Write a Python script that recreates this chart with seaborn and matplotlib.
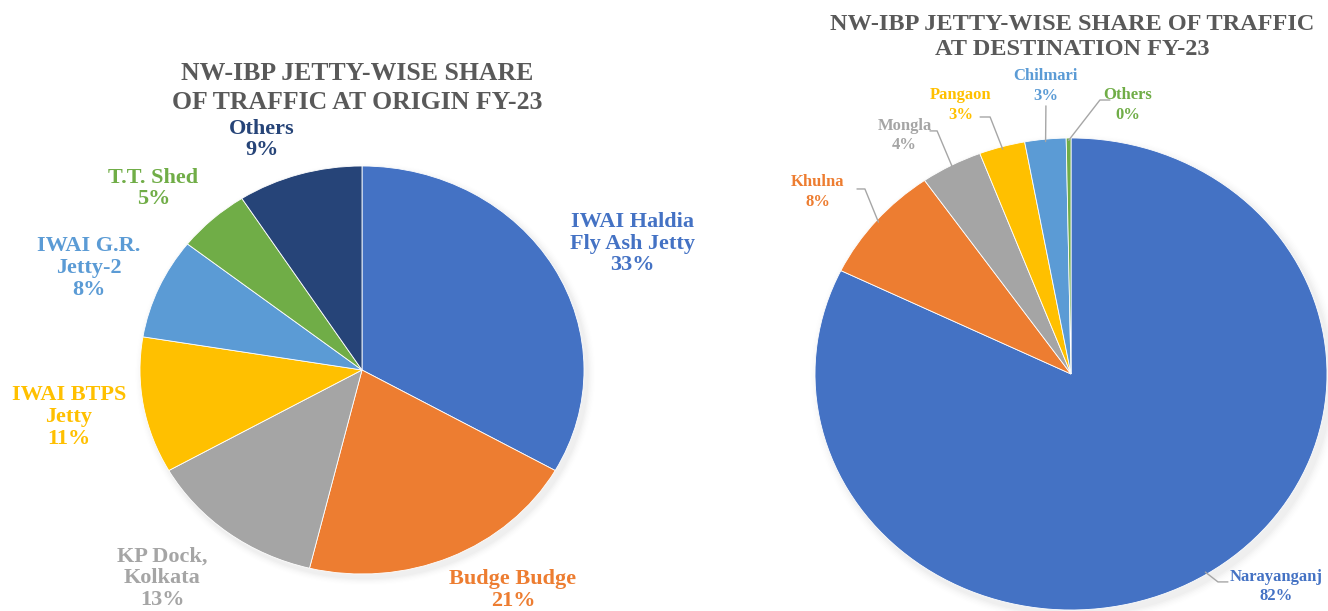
import numpy as np
import matplotlib
matplotlib.use("Agg")
import matplotlib.pyplot as plt
import seaborn as sns

# data
origin_names = ["IWAI Haldia\nFly Ash Jetty", "Budge Budge", "KP Dock,\nKolkata",
                "IWAI BTPS\nJetty", "IWAI G.R.\nJetty-2", "T.T. Shed", "Others"]
origin_share = [33.2, 20.6, 13.0, 10.8, 8.0, 5.3, 9.1]

dest_names = ["Narayanganj", "Khulna", "Mongla", "Pangaon", "Chilmari", "Others"]
dest_share = [82.3, 8.1, 3.9, 2.9, 2.6, 0.3]

origin_colors = ["#4472C4", "#ED7D31", "#A5A5A5", "#FFC000", "#5B9BD5", "#70AD47", "#264478"]
dest_colors = ["#4472C4", "#ED7D31", "#A5A5A5", "#FFC000", "#5B9BD5", "#70AD47"]

# label layout (pie units, radius = 1)
origin_label_pos = [(1.22, 0.62), (0.68, -1.08), (-0.90, -1.02), (-1.32, -0.23),
                    (-1.23, 0.50), (-0.94, 0.89), (-0.45, 1.13)]
dest_label_pos = [(0.80, -0.90), (-0.99, 0.77), (-0.65, 1.01), (-0.43, 1.14),
                  (-0.10, 1.22), (0.22, 1.14)]
# leader lines: (stub start, elbow)
dest_leaders = [((0.613, -0.881), (0.574, -0.881)),
                ((-0.836, 0.784), (-0.805, 0.784)),
                ((-0.551, 1.030), (-0.523, 1.030)),
                ((-0.355, 1.089), (-0.316, 1.089)),
                ((-0.098, 1.136), (-0.098, 1.136)),
                ((0.152, 1.161), (0.113, 1.161))]

sns.set_theme(style="white")
plt.rcParams["font.family"] = ["Liberation Serif", "DejaVu Serif"]
plt.rcParams["font.weight"] = "bold"

fig = plt.figure(figsize=(13.28, 6.11), dpi=100)
title_color = "#595959"


def pie_axes(rect, share, colors, xlim, ylim):
    ax = fig.add_axes(rect)
    wedges, _ = ax.pie(share, colors=colors, startangle=90, counterclock=False,
                       radius=1, center=(0, 0),
                       wedgeprops=dict(linewidth=0.6, edgecolor="white"))
    # soft shadow under the pie
    for i, a in enumerate(np.linspace(0.05, 0.012, 6)):
        sh = matplotlib.patches.Ellipse((0.015, -0.02), 2 + 0.012 * (i + 1), 2 + 0.012 * (i + 1),
                                        facecolor="black", alpha=a * 0.35, edgecolor="none", zorder=0)
        ax.add_patch(sh)
    for w in wedges:
        w.set_zorder(2)
        w.set_clip_on(False)
    ax.set_aspect("auto")
    ax.set_xlim(*xlim)
    ax.set_ylim(*ylim)
    ax.axis("off")
    return ax, wedges


# left pie: center (362,370) px, rx 222, ry 204
ax1, w1 = pie_axes([0, 0, 0.5, 1], origin_share, origin_colors,
                   (-362 / 222, (664 - 362) / 222), (-(611 - 370) / 204, 370 / 204))
ax1.text(-0.023, 1.382, "NW-IBP JETTY-WISE SHARE\nOF TRAFFIC AT ORIGIN FY-23",
         ha="center", va="center", fontsize=18.5, color=title_color,
         fontweight="bold", linespacing=1.3)
for name, val, col, pos in zip(origin_names, origin_share, origin_colors, origin_label_pos):
    ax1.text(pos[0], pos[1], f"{name}\n{val:.0f}%", ha="center", va="center",
             fontsize=16, color=col, fontweight="bold", linespacing=1.12)

# right pie: center (1071,374) px, rx 256, ry 236
ax2, w2 = pie_axes([0.5, 0, 0.5, 1], dest_share, dest_colors,
                   ((664 - 1071) / 256, (1328 - 1071) / 256), (-(611 - 374) / 236, 374 / 236))
ax2.text(0.004, 1.428, "NW-IBP JETTY-WISE SHARE OF TRAFFIC\nAT DESTINATION FY-23",
         ha="center", va="center", fontsize=17.5, color=title_color,
         fontweight="bold", linespacing=1.3)
for name, val, col, pos, (stub, elbow), w in zip(dest_names, dest_share, dest_colors,
                                                  dest_label_pos, dest_leaders, w2):
    ax2.text(pos[0], pos[1], f"{name}\n{val:.0f}%", ha="center", va="center",
             fontsize=12, color=col, fontweight="bold", linespacing=1.3)
    mid = np.deg2rad((w.theta1 + w.theta2) / 2)
    edge = (0.99 * np.cos(mid), 0.99 * np.sin(mid))
    ax2.plot([stub[0], elbow[0], edge[0]], [stub[1], elbow[1], edge[1]],
             color="#A6A6A6", linewidth=1.0, zorder=3, clip_on=False)

fig.savefig("out.png", dpi=100)
